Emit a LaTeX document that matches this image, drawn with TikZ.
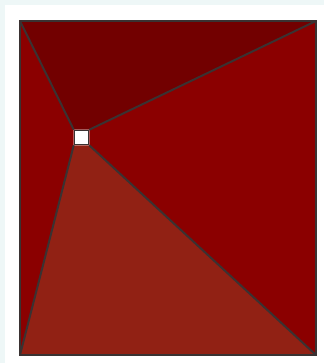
\documentclass[tikz,border=0pt]{standalone}
\usepackage{tikz}

\definecolor{paleedge}{HTML}{EEF7F7}
\definecolor{topred}{HTML}{720000}
\definecolor{sidered}{HTML}{8B0000}
\definecolor{lowred}{HTML}{912114}
\definecolor{seam}{HTML}{3A3232}

\newlength{\px}
\setlength{\px}{0.03cm}
\tikzset{
  seamline/.style={draw=seam, line width=1.7pt},
  hubbox/.style={draw=seam, fill=white, line width=1.3pt, minimum size=14\px, inner sep=0pt}
}

\begin{document}
\begin{tikzpicture}[x=0.03cm, y=-0.03cm]
		% frame and page
		\fill[paleedge] (0,0) rectangle (324,363);
		\fill[white] (5,5) rectangle (324,363);
		\useasboundingbox (0,0) rectangle (324,363);
		% outer corners
		\coordinate (tl) at (20,21);
		\coordinate (tr) at (316,21);
		\coordinate (br) at (316,355);
		\coordinate (bl) at (20,355);
		\node[hubbox] (hub) at (81.5,137.5) {};
		% faces
		\fill[topred] (tl) -- (tr) -- (hub.north east) -- (hub.north west) -- cycle;
		\fill[sidered] (tr) -- (br) -- (hub.south east) -- (hub.north east) -- cycle;
		\fill[sidered] (tl) -- (hub.north west) -- (hub.south west) -- (bl) -- cycle;
		\fill[lowred] (bl) -- (hub.south west) -- (hub.south east) -- (br) -- cycle;
		% seams
		\draw[seamline] (tl) -- (hub.north west);
		\draw[seamline] (tr) -- (hub.north east);
		\draw[seamline] (br) -- (hub.south east);
		\draw[seamline] (bl) -- (hub.south west);
		\draw[seamline] (tl) rectangle (br);
		\node[hubbox] (hubface) at (hub) {};
	\end{tikzpicture}
\end{document}
